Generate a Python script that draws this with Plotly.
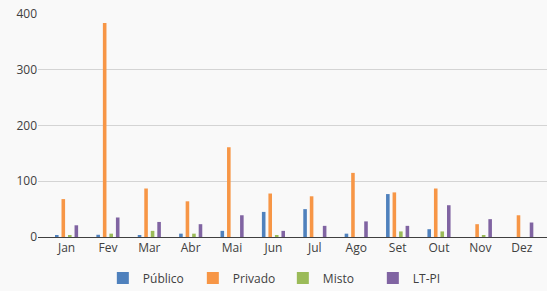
import plotly.graph_objects as go

months = ["Jan", "Fev", "Mar", "Abr", "Mai", "Jun", "Jul", "Ago", "Set", "Out", "Nov", "Dez"]
publico = [2, 4, 3, 6, 11, 45, 50, 6, 77, 14, 0, 0]
privado = [68, 384, 87, 64, 161, 78, 73, 115, 80, 87, 23, 39]
misto = [2, 6, 11, 6, 0, 2, 0, 0, 10, 10, 2, 0]
ltpi = [21, 35, 27, 23, 39, 11, 20, 28, 20, 57, 32, 26]

series = [
    ("Público", publico, "#4F81BD"),
    ("Privado", privado, "#F79646"),
    ("Misto", misto, "#9BBB59"),
    ("LT-PI", ltpi, "#8064A2"),
]

fig = go.Figure()
for name, vals, col in series:
    fig.add_trace(go.Bar(x=months, y=vals, name=name, marker_color=col, marker_line_width=0))

fig.update_layout(
    width=547, height=291,
    margin=dict(l=38, r=0, t=14, b=54),
    barmode="group", bargap=0.37, bargroupgap=0.45,
    paper_bgcolor="#f9f9f9", plot_bgcolor="#f9f9f9",
    font=dict(family="Open Sans, Liberation Sans, sans-serif", size=12, color="#404040"),
    legend=dict(orientation="h", xref="container", yref="container",
                x=0.188, xanchor="left", y=0.045, yanchor="middle",
                font=dict(size=12, color="#404040"), entrywidth=45, entrywidthmode="pixels",
                itemwidth=30, tracegroupgap=0),
    showlegend=True,
)
fig.update_yaxes(range=[0, 400], dtick=100, showgrid=True, gridcolor="#d4d4d4", gridwidth=1,
                 zeroline=False, ticks="", tickfont=dict(size=12, color="#404040"))
fig.update_xaxes(range=[-0.69, 11.61], showline=True, linecolor="#404040", linewidth=1, ticks="",
                 tickfont=dict(size=12, color="#404040"))

fig.write_html("out.html", config={"displayModeBar": False},
               post_script="document.body.style.margin='0';document.body.style.background='#f9f9f9';")
